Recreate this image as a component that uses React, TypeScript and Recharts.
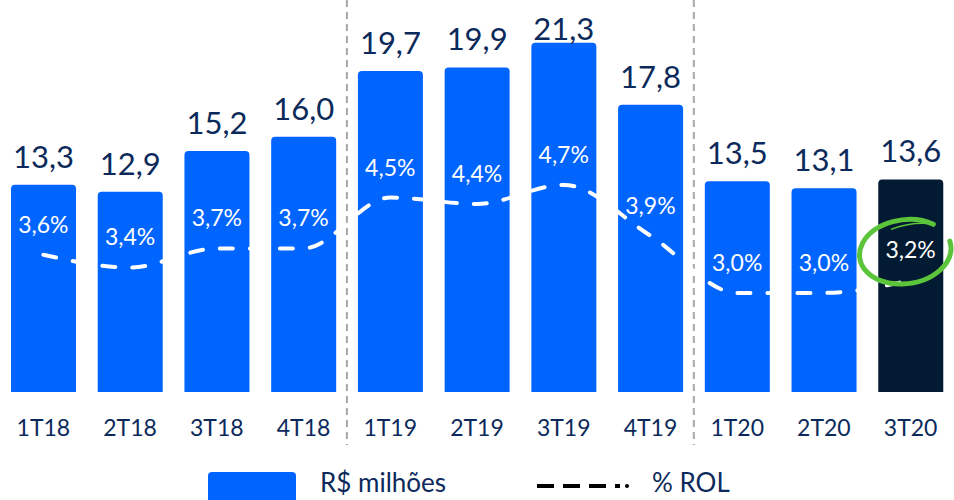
import React from "react";
import { Bar, Cell, ComposedChart, LabelList, Line, ReferenceLine, XAxis, YAxis } from "recharts";

const quarters = ["1T18", "2T18", "3T18", "4T18", "1T19", "2T19", "3T19", "4T19", "1T20", "2T20", "3T20"];
const reaisMilhoes = [13.3, 12.9, 15.2, 16.0, 19.7, 19.9, 21.3, 17.8, 13.5, 13.1, 13.6];
const pctRol = [3.6, 3.4, 3.7, 3.7, 4.5, 4.4, 4.7, 3.9, 3.0, 3.0, 3.2];
const yearEnds = ["4T18", "4T19"];

const BLUE = "#0064ff";
const DARK = "#031b32";
const NAVY = "#0b2a5b";
const GREEN = "#5cc43a";
const FONT = "Lato, 'Noto Sans', sans-serif";

const data = quarters.map((q, i) => ({ q, valor: reaisMilhoes[i], rol: pctRol[i] }));

const fmt = (v: number) => v.toFixed(1).replace(".", ",");

function BarValue(props: any) {
  const { x, y, width, value } = props;
  const baseY = Math.max(y - 17, 40);
  return (
    <text x={x + width / 2} y={baseY} textAnchor="middle" fill={NAVY} fontSize={31} fontFamily={FONT}>
      {fmt(value)}
    </text>
  );
}

function PctLabel(props: any) {
  const { x, y, value, index } = props;
  const last = index === quarters.length - 1;
  return (
    <g>
      <text x={x} y={y - 31} textAnchor="middle" dominantBaseline="central" fill="#ffffff" fontSize={23} fontFamily={FONT}>
        {fmt(value) + "%"}
      </text>
      {last && (
        <g transform={`translate(${x - 3}, ${y - 23}) rotate(-8)`}>
          <path
            d="M 30 -29 A 46 32 0 1 0 44 -10"
            fill="none"
            stroke={GREEN}
            strokeWidth={5}
            strokeLinecap="round"
          />
          <path d="M 30 -29 Q 12 -35 -12 -30" fill="none" stroke={GREEN} strokeWidth={1.5} strokeLinecap="round" />
        </g>
      )}
    </g>
  );
}

function Separator(props: any) {
  const { x1, x2, y1, y2 } = props;
  const bottom = Math.max(y1, y2);
  return <line x1={x1} x2={x2} y1={0} y2={bottom + 53} stroke="#a8a8a8" strokeWidth={2} strokeDasharray="7 5" />;
}

export default function App() {
  return (
    <div style={{ position: "relative", width: 954, height: 500, overflow: "hidden", fontFamily: FONT }}>
      <style>{`body{margin:0}`}</style>
      <ComposedChart width={954} height={500} data={data} margin={{ top: 0, right: 0, bottom: 78, left: 0 }}>
        <XAxis
          dataKey="q"
          axisLine={false}
          tickLine={false}
          tickMargin={22}
          tick={{ fill: NAVY, fontSize: 23, fontFamily: FONT }}
          interval={0}
        />
        <YAxis yAxisId="left" hide domain={[1.63, 23.7]} allowDataOverflow />
        <YAxis yAxisId="right" orientation="right" hide domain={[1.44, 7.61]} allowDataOverflow />
        {yearEnds.map((q) => (
          <ReferenceLine key={q} x={q} yAxisId="left" position="end" shape={<Separator />} />
        ))}
        <Bar yAxisId="left" dataKey="valor" barSize={65} radius={[4, 4, 0, 0]} isAnimationActive={false}>
          {data.map((d, i) => (
            <Cell key={d.q} fill={i === data.length - 1 ? DARK : BLUE} />
          ))}
          <LabelList dataKey="valor" content={<BarValue />} />
        </Bar>
        <Line
          yAxisId="right"
          dataKey="rol"
          type="monotone"
          stroke="#ffffff"
          strokeWidth={4}
          strokeDasharray="13 17"
          strokeLinecap="round"
          dot={false}
          activeDot={false}
          isAnimationActive={false}
        >
          <LabelList dataKey="rol" content={<PctLabel />} />
        </Line>
      </ComposedChart>
      <div style={{ position: "absolute", left: 208, top: 472, width: 88, height: 40, background: BLUE, borderRadius: 4 }} />
      <div style={{ position: "absolute", left: 320, top: 466, fontSize: 26, color: NAVY, lineHeight: "32px" }}>R$ milhões</div>
      <svg style={{ position: "absolute", left: 530, top: 476 }} width={110} height={20}>
        <line x1={7} x2={90} y1={10} y2={10} stroke="#000" strokeWidth={4} strokeDasharray="17 9" />
        <circle cx={97} cy={10} r={2} fill="#000" />
      </svg>
      <div style={{ position: "absolute", left: 652, top: 466, fontSize: 26, color: NAVY, lineHeight: "32px" }}>% ROL</div>
    </div>
  );
}
